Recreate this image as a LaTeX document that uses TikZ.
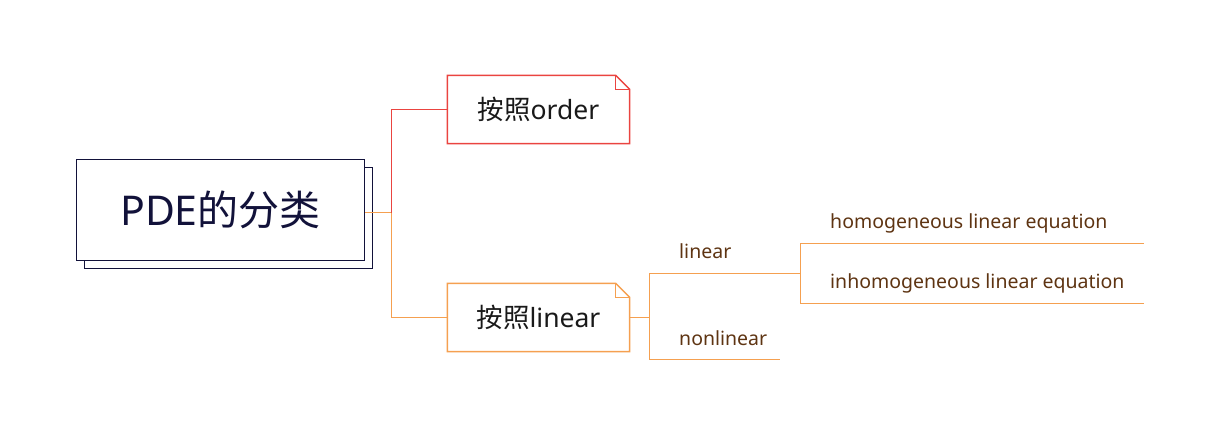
\documentclass[tikz,border=0pt]{standalone}
\usepackage{fontspec}
\setmainfont{Noto Sans}
\newfontfamily\cjk{Noto Sans CJK SC}
\usetikzlibrary{shadows}
\definecolor{rootcol}{HTML}{12123A}
\definecolor{ordercol}{HTML}{EA4440}
\definecolor{linearcol}{HTML}{F5A050}
\definecolor{leafcol}{HTML}{5E3412}
\begin{document}
\begin{tikzpicture}[x=1pt,y=-1pt]
			\tikzstyle{every node}=[inner sep=0pt]
			\tikzstyle{rootbox}=[draw=rootcol, line width=1.4pt, fill=white, text=rootcol,
			      minimum width=288pt, minimum height=101pt, font=\fontsize{41}{43}\selectfont,
			      copy shadow={shadow xshift=8pt, shadow yshift=-8pt}]
			\tikzstyle{notebox}=[minimum width=182pt, minimum height=68pt, text=black!90,
			      font=\fontsize{26.5}{28}\selectfont]
			\tikzstyle{leaf}=[anchor=base west, text=leafcol, font=\fontsize{19.5}{21}\selectfont]
			\tikzstyle{branch}=[line width=1.5pt]
			\useasboundingbox (0,0) rectangle (1219,436);
			\path (220.5,210) node[rootbox] (root) {PDE{\cjk 的分类}}
			      (538.5,109.5) node[notebox] (order) {{\cjk 按照}order}
			      (538.5,317.5) node[notebox] (linear) {{\cjk 按照}linear}
			      (679,258) node[leaf] (lin) {linear}
			      (679,345) node[leaf] (nonlin) {nonlinear}
			      (830,228) node[leaf] (hom) {homogeneous linear equation}
			      (830,288) node[leaf] (inhom) {inhomogeneous linear equation};
			\coordinate (fork) at (391.5,212.5);
			\coordinate (linfork) at (649.5,317.5);
			\coordinate (linend) at (799.5,273.5);
			\coordinate (nonlinend) at (779.5,359.5);
			\coordinate (homfork) at (800.5,273.5);
			\coordinate (homend) at (1143.5,243.5);
			\coordinate (inhomend) at (1143.5,303.5);
			% folded note outlines
			\foreach \n/\c in {order/ordercol, linear/linearcol} {
			  \draw[\c, branch] (\n.north west) -- ([xshift=-14pt]\n.north east)
			        -- ([yshift=-14pt]\n.north east) -- (\n.south east) -- (\n.south west) -- cycle;
			  \draw[\c, branch] ([xshift=-14pt]\n.north east) |- ([yshift=-14pt]\n.north east);
			}
			\draw[linearcol, branch] (fork -| root.east) -- (fork) |- (linear.west);
			\draw[ordercol, branch] (fork) |- (order.west);
			\draw[linearcol, branch] (linear.east) -- (linfork) |- (linend)
			      (linfork) |- (nonlinend);
			\draw[linearcol, branch] (homfork) |- (homend)
			      (homfork) |- (inhomend);
		\end{tikzpicture}
\end{document}
